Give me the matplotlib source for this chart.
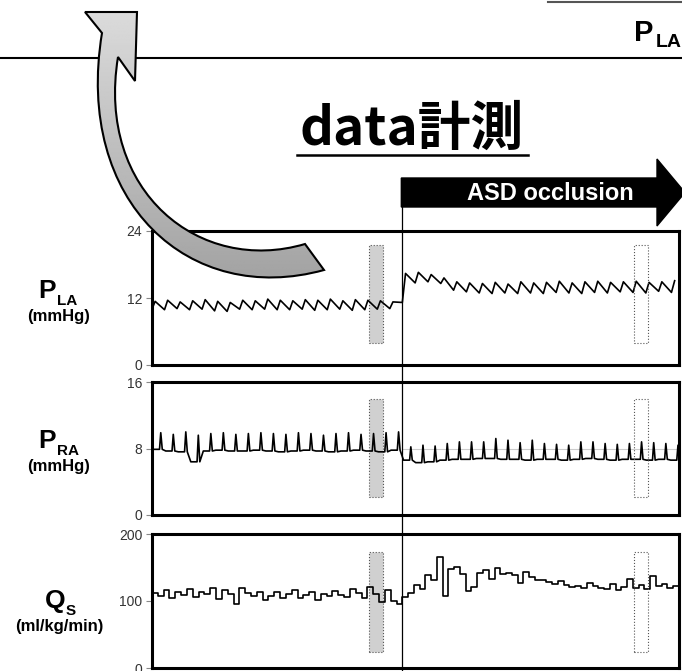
import numpy as np
import matplotlib.pyplot as plt
from matplotlib.path import Path
from matplotlib.patches import PathPatch, Polygon

plt.rcParams['font.family'] = ['Liberation Sans', 'Noto Sans CJK JP', 'DejaVu Sans']

W, H = 682, 671

# time axis (s), ASD occluded at t_occl
t_end = 20.0
t_occl = 9.5
win_before = (8.25, 8.78)
win_after = (18.3, 18.82)

# P_LA (mmHg): one peak / trough per beat
pla_peak_pre = [11.4, 11.6, 11.3, 11.5, 11.7, 11.4, 11.2, 11.6, 11.5, 11.8,
                11.6, 11.5, 11.7, 11.6, 11.8, 11.5, 11.7, 11.6, 11.5, 11.3]
pla_trough_pre = [10.0, 9.9, 10.1, 9.9, 10.0, 9.7, 9.6, 10.0, 9.9, 10.0,
                  9.9, 9.9, 10.0, 9.8, 9.9, 10.0, 9.8, 9.9, 10.0, 10.1]
pla_peak_post = [16.4, 16.6, 16.2, 15.6, 14.9, 14.7, 14.6, 14.8, 14.5, 14.9, 14.7,
                 14.8, 15.0, 14.7, 14.9, 15.0, 14.8, 14.9, 15.0, 14.8, 14.9, 15.1]
pla_trough_post = [11.2, 14.7, 14.9, 14.6, 13.4, 13.1, 12.9, 12.8, 12.9, 12.8, 12.9,
                   12.8, 13.0, 12.9, 12.8, 13.0, 12.9, 13.1, 13.0, 12.9, 13.2, 13.0]

# P_RA (mmHg)
pra_peak_pre = [9.9, 9.7, 10.0, 9.6, 9.8, 9.9, 9.7, 9.8, 9.9, 9.8,
                9.7, 9.9, 9.8, 9.6, 9.8, 9.9, 9.7, 9.8, 9.9, 10.0]
pra_trough_pre = [7.9, 7.7, 7.6, 6.4, 7.7, 7.8, 7.7, 7.7, 7.8, 7.7,
                  7.6, 7.7, 7.8, 7.7, 7.6, 7.7, 7.8, 7.7, 7.6, 7.8]
pra_peak_post = [8.2, 8.4, 8.3, 8.6, 8.8, 8.8, 8.8, 9.2, 9.0, 8.7, 9.0, 8.6,
                 8.5, 8.4, 8.8, 8.8, 8.6, 8.5, 8.6, 8.8, 8.7, 8.6, 8.4]
pra_trough_post = [6.6, 6.3, 6.4, 6.6, 6.7, 6.7, 6.8, 6.8, 6.7, 6.7, 6.6, 6.7,
                   6.7, 6.6, 6.7, 6.8, 6.7, 6.6, 6.7, 6.7, 6.6, 6.7, 6.6]

# Q_S (ml/kg/min), sampled record
qs_pre = [112, 108, 116, 104, 113, 109, 118, 106, 114, 110, 120, 103, 117, 111,
          96, 119, 112, 107, 114, 102, 108, 113, 105, 110, 117, 104, 109, 114,
          101, 111, 107, 115, 109, 106, 118, 112, 104, 121, 110, 98, 117, 100, 96]
qs_post = [106, 112, 124, 118, 139, 131, 166, 108, 148, 151, 140, 115, 121, 142,
           146, 133, 149, 141, 142, 139, 127, 143, 136, 132, 131, 128, 126, 130,
           124, 121, 123, 119, 127, 122, 120, 118, 125, 117, 121, 133, 120, 124,
           118, 138, 122, 125, 119, 122]


def sawtooth(t0, t1, peaks, troughs):
    p = (t1 - t0) / len(peaks)
    xs, ys = [], []
    for i, (pk, tr) in enumerate(zip(peaks, troughs)):
        ti = t0 + i * p
        xs += [ti, ti + 0.25 * p]
        ys += [tr, pk]
    return xs, ys


def spikes(t0, t1, peaks, troughs):
    p = (t1 - t0) / len(peaks)
    xs, ys = [], []
    for i, (pk, tr) in enumerate(zip(peaks, troughs)):
        ti = t0 + i * p
        xs += [ti + 0.1 * p, ti + 0.6 * p, ti + 0.7 * p, ti + 0.82 * p]
        ys += [tr, tr, pk, tr]
    return xs, ys


fig = plt.figure(figsize=(W / 100, H / 100), dpi=100)


def frac(x0, y0, x1, y1):
    return [x0 / W, 1 - y1 / H, (x1 - x0) / W, (y1 - y0) / H]


panels = [(231, 365), (382, 515), (534, 668)]
win_span = [(0.164, 0.896), (0.135, 0.872), (0.12, 0.866)]
px_left, px_right = 152, 679
axes = []
for top, bot in panels:
    ax = fig.add_axes(frac(px_left, top, px_right, bot))
    ax.set_xlim(0, t_end)
    ax.set_xticks([])
    for s in ax.spines.values():
        s.set_linewidth(2.2)
        s.set_color('black')
    ax.tick_params(axis='y', length=4, width=0.8, color='#888888',
                   labelsize=10, labelcolor='#333333', pad=3)
    axes.append(ax)

# P_LA
ax = axes[0]
x1, y1 = sawtooth(0, t_occl, pla_peak_pre, pla_trough_pre)
x2, y2 = sawtooth(t_occl, t_end + 0.2, pla_peak_post, pla_trough_post)
ax.plot(x1 + x2, y1 + y2, color='black', lw=1.2)
ax.set_ylim(0, 24)
ax.set_yticks([0, 12, 24])

# P_RA
ax = axes[1]
ax.plot([t_occl, t_end], [8, 8], color='#cccccc', lw=0.8, zorder=0)
x1, y1 = spikes(0, t_occl, pra_peak_pre, pra_trough_pre)
x2, y2 = spikes(t_occl, t_end + 0.1, pra_peak_post, pra_trough_post)
ax.plot(x1 + x2, y1 + y2, color='black', lw=1.2)
ax.set_ylim(0, 16)
ax.set_yticks([0, 8, 16])

# Q_S
ax = axes[2]
tq1 = np.linspace(0, t_occl, len(qs_pre) + 1)[:-1]
tq2 = np.linspace(t_occl, t_end, len(qs_post) + 1)
vq = qs_pre + qs_post + [qs_post[-1]]
ax.step(np.concatenate([tq1, tq2]), vq, where='post', color='black', lw=1.2)
ax.set_ylim(0, 200)
ax.set_yticks([0, 100, 200])

# analysis windows
for ax, (lo, hi) in zip(axes, win_span):
    ax.axvspan(*win_before, ymin=lo, ymax=hi, facecolor='#d0d0d0',
               edgecolor='#555555', lw=0.8, ls=':', zorder=0)
    ax.axvspan(*win_after, ymin=lo, ymax=hi, facecolor='none',
               edgecolor='#555555', lw=0.8, ls=':', zorder=3)

# overlay in pixel coordinates
ov = fig.add_axes([0, 0, 1, 1])
ov.set_xlim(0, W)
ov.set_ylim(H, 0)
ov.axis('off')
ov.set_zorder(5)
ov.patch.set_alpha(0)

ov.plot([0, W], [58, 58], color='black', lw=1.5, zorder=1)
ov.plot([548, W], [2, 2], color='#555555', lw=1.5)
ov.text(634, 41, 'P', fontsize=21, fontweight='bold', va='baseline')
ov.text(656, 47, 'LA', fontsize=14, fontweight='bold', va='baseline')

# title
ov.text(412, 129, 'data計測', fontsize=38, fontweight='bold',
        family=['Noto Sans CJK JP', 'DejaVu Sans'], ha='center', va='center')
ov.plot([297, 528], [155, 155], color='black', lw=1.8)

# ASD occlusion arrow
x_occl = px_left + t_occl / t_end * (px_right - px_left)
ov.plot([x_occl, x_occl], [190, H], color='black', lw=0.9)
ov.add_patch(Polygon([(x_occl - 1, 178), (657, 178), (657, 159), (685, 192.5),
                      (657, 226), (657, 207), (x_occl - 1, 207)],
                     closed=True, facecolor='black', edgecolor='black'))
ov.text(550, 194, 'ASD occlusion', color='white', fontsize=17,
        fontweight='bold', ha='center', va='center')

# curved grey arrow
verts = [(102, 33), (85, 12), (137, 12), (135, 81), (118, 57),
         (96, 192), (200, 275), (305, 244),
         (324, 270),
         (190, 307), (74, 203), (102, 33),
         (102, 33)]
codes = [Path.MOVETO, Path.LINETO, Path.LINETO, Path.LINETO, Path.LINETO,
         Path.CURVE4, Path.CURVE4, Path.CURVE4,
         Path.LINETO,
         Path.CURVE4, Path.CURVE4, Path.CURVE4,
         Path.CLOSEPOLY]
arrow = PathPatch(Path(verts, codes), facecolor='none', edgecolor='black',
                  lw=1.5, zorder=4)
grad = np.linspace(0.86, 0.62, 256).reshape(-1, 1)
img = ov.imshow(grad, cmap='gray', vmin=0, vmax=1, extent=(70, 330, 300, 10),
                origin='upper', aspect='auto', zorder=3)
ov.add_patch(arrow)
img.set_clip_path(arrow)

# axis labels
labels = [('P', 'LA', '(mmHg)', 298, 316, 56),
          ('P', 'RA', '(mmHg)', 448, 467, 56),
          ('Q', 'S', '(ml/kg/min)', 608, 626, 65)]
for main, sub, unit, base, uy, xr in labels:
    ov.text(xr, base, main, fontsize=19, fontweight='bold', ha='right', va='baseline')
    ov.text(xr + 1, base + 7, sub, fontsize=11, fontweight='bold', va='baseline')
    ov.text(59, uy, unit, fontsize=12, fontweight='bold', ha='center', va='center')

fig.savefig('out.png', dpi=100)
